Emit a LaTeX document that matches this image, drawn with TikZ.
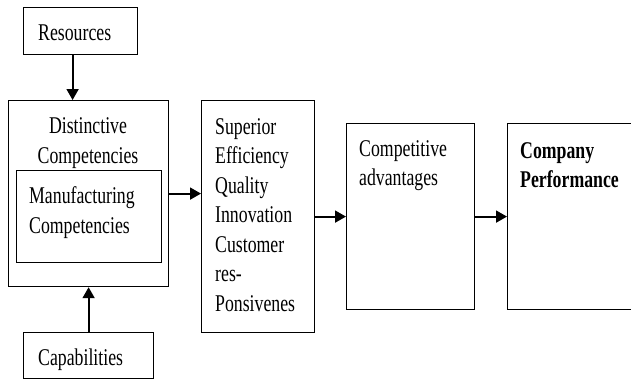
\documentclass[tikz,border=0pt]{standalone}
\usepackage{fontspec}
\setmainfont{Liberation Serif}[FakeStretch=0.74]
\usetikzlibrary{arrows.meta, calc}

\begin{document}
\begin{tikzpicture}[x=1pt, y=-1pt]
    \tikzset{
        block/.style={
                draw=black, line width=1.2pt, rectangle, inner sep=0pt, anchor=north west
            },
        block text/.style={
                font=\fontsize{24}{29.5}\selectfont, inner sep=0pt, align=left, anchor=base west
            },
        flow arrow/.style={
                line width=1.8pt, -{Triangle[length=11pt, width=12pt]}
            }
    }
    \useasboundingbox (0,0) rectangle (631,380);

    % boxes
    \node[block, minimum width=114pt, minimum height=47pt] (res) at (23,7) {};
    \node[block, minimum width=160pt, minimum height=186pt] (dist) at (8,100) {};
    \node[block, minimum width=145pt, minimum height=92pt] (manu) at (16,170) {};
    \node[block, minimum width=130pt, minimum height=46pt] (cap) at (23,332) {};
    \node[block, minimum width=113pt, minimum height=232pt] (sup) at (201,100) {};
    \node[block, minimum width=128pt, minimum height=186pt] (comp) at (346,123) {};
    \node[block, minimum width=126pt, minimum height=186pt] (perf) at (507,123) {};

    % texts (base = baseline of the last line)
    \node[block text] (res text) at (38,40) {Resources};
    \node[block text, align=center, anchor=base] (dist text) at (88,163) {Distinctive\\Competencies};
    \node[block text] (manu text) at (29,233) {Manufacturing\\Competencies};
    \node[block text] (cap text) at (38,365) {Capabilities};
    \node[block text] (sup text) at (215,311) {Superior\\Efficiency\\Quality\\Innovation\\Customer\\res-\\Ponsivenes};
    \node[block text] (comp text) at (359,185.5) {Competitive\\advantages};
    \node[block text, font=\fontsize{24}{29.5}\selectfont\bfseries] (perf text) at (520,187.5) {Company\\Performance};

    % arrows
    \draw[flow arrow] ([xshift=-8pt]res.south) -- ([xshift=-8pt]res.south |- dist.north);
    \draw[flow arrow] (cap.north) -- (dist.south);
    \draw[flow arrow] (dist.east) -- (sup.west |- dist.east);
    \draw[flow arrow] (sup.east |- comp.west) -- (comp.west);
    \draw[flow arrow] (comp.east) -- (perf.west);
\end{tikzpicture}
\end{document}
